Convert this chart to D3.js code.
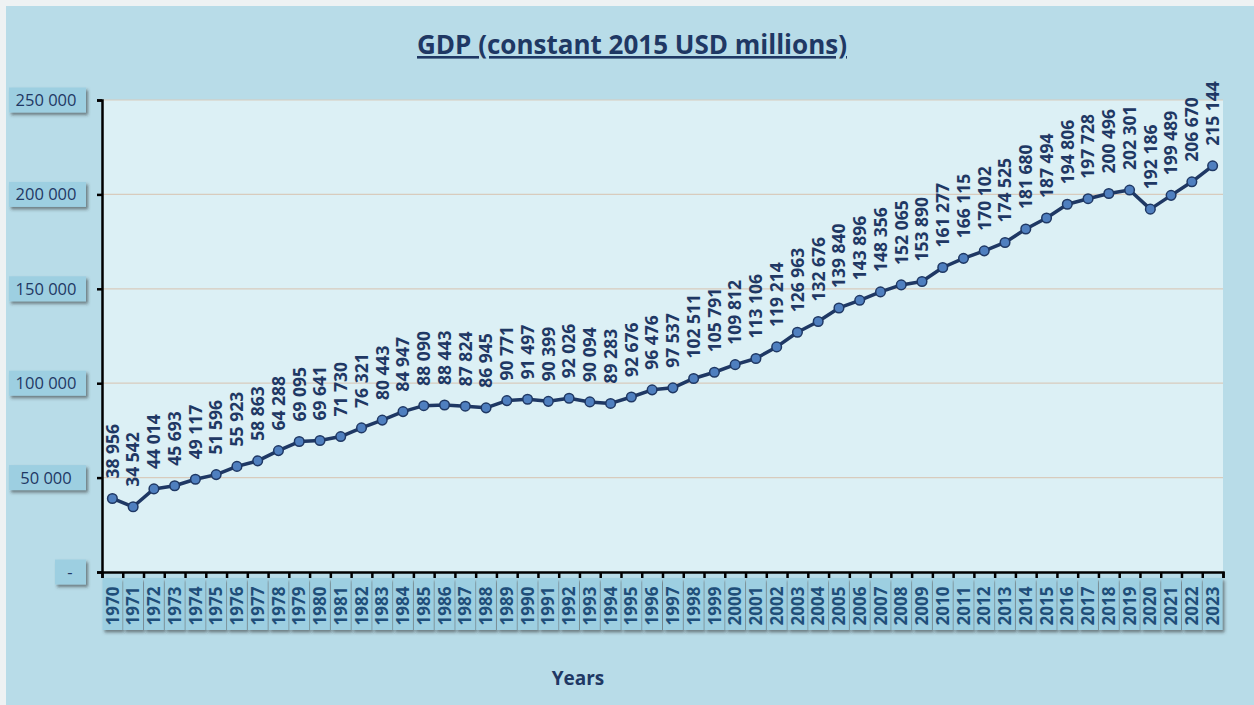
<!DOCTYPE html>
<html lang="en">
<head>
  <meta charset="UTF-8">
  <title>GDP (constant 2015 USD millions)</title>
  <script src="https://d3js.org/d3.v7.min.js"></script>
  <style>
    body { margin: 0; background: #eef2f3; }
    svg { display: block; }
    text { font-family: "Open Sans", "Noto Sans", sans-serif; fill: #1f3864; }
  </style>
</head>
<body>
  <svg id="chart" width="1254" height="705"></svg>

  <script>
    const years = [1970, 1971, 1972, 1973, 1974, 1975, 1976, 1977, 1978, 1979,
      1980, 1981, 1982, 1983, 1984, 1985, 1986, 1987, 1988, 1989,
      1990, 1991, 1992, 1993, 1994, 1995, 1996, 1997, 1998, 1999,
      2000, 2001, 2002, 2003, 2004, 2005, 2006, 2007, 2008, 2009,
      2010, 2011, 2012, 2013, 2014, 2015, 2016, 2017, 2018, 2019,
      2020, 2021, 2022, 2023];
    const gdp = [38956, 34542, 44014, 45693, 49117, 51596, 55923, 58863, 64288, 69095,
      69641, 71730, 76321, 80443, 84947, 88090, 88443, 87824, 86945, 90771,
      91497, 90399, 92026, 90094, 89283, 92676, 96476, 97537, 102511, 105791,
      109812, 113106, 119214, 126963, 132676, 139840, 143896, 148356, 152065, 153890,
      161277, 166115, 170102, 174525, 181680, 187494, 194806, 197728, 200496, 202301,
      192186, 199489, 206670, 215144];
    const yTicks = [0, 50000, 100000, 150000, 200000, 250000];

    const svg = d3.select("#chart");
    const plotL = 102, plotR = 1223, plotT = 100, plotB = 572;

    const fmt = v => v === 0 ? "-" : d3.format(",")(v).replace(/,/g, " ");

    // shadow for the label boxes
    const defs = svg.append("defs");
    defs.append("filter").attr("id", "shadow")
      .attr("x", "-20%").attr("y", "-20%").attr("width", "150%").attr("height", "150%")
      .append("feDropShadow")
      .attr("dx", 2).attr("dy", 2.5).attr("stdDeviation", 1.5)
      .attr("flood-color", "#333").attr("flood-opacity", 0.55);

    // background
    svg.append("rect").attr("x", 6).attr("y", 6).attr("width", 1248).attr("height", 699)
      .attr("fill", "#b8dce8");

    const x = d3.scaleBand().domain(years).range([plotL, plotR]);
    const y = d3.scaleLinear().domain([0, 250000]).range([plotB, plotT]);

    // plot area
    svg.append("rect").attr("x", plotL).attr("y", plotT)
      .attr("width", plotR - plotL).attr("height", plotB - plotT)
      .attr("fill", "#dcf0f5");

    // gridlines
    svg.append("g").selectAll("line").data(yTicks.filter(d => d > 0)).join("line")
      .attr("x1", plotL).attr("x2", plotR)
      .attr("y1", d => y(d)).attr("y2", d => y(d))
      .attr("stroke", "#d8cbbd").attr("stroke-width", 1.2);

    // title
    svg.append("text")
      .attr("x", 632).attr("y", 54)
      .attr("text-anchor", "middle")
      .style("font-size", "26px").style("font-weight", "bold")
      .style("text-decoration", "underline")
      .text("GDP (constant 2015 USD millions)");

    // y axis
    const yAxis = svg.append("g")
      .attr("transform", `translate(${plotL},0)`)
      .call(d3.axisLeft(y).tickValues(yTicks).tickSize(5).tickFormat(""));
    yAxis.select(".domain").attr("stroke", "#000").attr("stroke-width", 2.5);
    yAxis.selectAll(".tick line").attr("stroke", "#000").attr("stroke-width", 2.5);

    // y tick label boxes
    const yLab = svg.append("g").selectAll("g").data(yTicks).join("g")
      .attr("transform", d => `translate(0,${y(d)})`);
    yLab.append("rect")
      .attr("x", d => d === 0 ? 55 : 9).attr("y", -12.5)
      .attr("width", d => d === 0 ? 31 : 77).attr("height", 25)
      .attr("fill", "#9dcfe1").attr("filter", "url(#shadow)");
    yLab.append("text")
      .attr("x", d => d === 0 ? 70 : 46).attr("y", 0)
      .attr("dy", "0.36em").attr("text-anchor", "middle")
      .style("font-size", "16.5px").style("font-weight", 500)
      .text(fmt);

    // x axis with ticks at category boundaries
    const xb = d3.scaleLinear().domain([0, years.length]).range([plotL, plotR]);
    const xAxis = svg.append("g")
      .attr("transform", `translate(0,${plotB})`)
      .call(d3.axisBottom(xb).tickValues(d3.range(years.length + 1)).tickSize(6).tickFormat(""));
    xAxis.select(".domain").attr("stroke", "#000").attr("stroke-width", 2.5);
    xAxis.selectAll(".tick line").attr("stroke", "#000").attr("stroke-width", 2.5);

    // year label boxes
    const xLab = svg.append("g").selectAll("g").data(years).join("g")
      .attr("transform", d => `translate(${x(d)},0)`);
    xLab.append("rect")
      .attr("x", 0.5).attr("y", 578)
      .attr("width", x.bandwidth() - 1).attr("height", 52)
      .attr("fill", "#9dcfe1").attr("filter", "url(#shadow)");
    xLab.append("text")
      .attr("transform", `translate(${x.bandwidth() / 2},606) rotate(-90)`)
      .attr("dy", "0.36em").attr("text-anchor", "middle")
      .style("font-size", "17px").style("font-weight", "bold")
      .style("fill", "#1f4e79")
      .text(d => d);

    // x axis title
    svg.append("text")
      .attr("x", 578).attr("y", 685)
      .attr("text-anchor", "middle")
      .style("font-size", "19px").style("font-weight", "bold")
      .text("Years");

    // line
    const cx = d => x(d) + x.bandwidth() / 2;
    const pts = years.map((yr, i) => ({ yr: yr, v: gdp[i] }));
    svg.append("path").datum(pts)
      .attr("fill", "none").attr("stroke", "#1f3864").attr("stroke-width", 3.5)
      .attr("stroke-linejoin", "round")
      .attr("d", d3.line().x(d => cx(d.yr)).y(d => y(d.v)));

    svg.append("g").selectAll("circle").data(pts).join("circle")
      .attr("cx", d => cx(d.yr)).attr("cy", d => y(d.v)).attr("r", 4.8)
      .attr("fill", "#4f7fbf").attr("stroke", "#1f3864").attr("stroke-width", 1.5);

    // data labels
    svg.append("g").selectAll("text").data(pts).join("text")
      .attr("transform", d => `translate(${cx(d.yr)},${y(d.v) - 20}) rotate(-90)`)
      .attr("dy", "0.36em").attr("text-anchor", "start")
      .style("font-size", "17.5px").style("font-weight", "bold")
      .text(d => fmt(d.v));
  </script>
</body>
</html>
